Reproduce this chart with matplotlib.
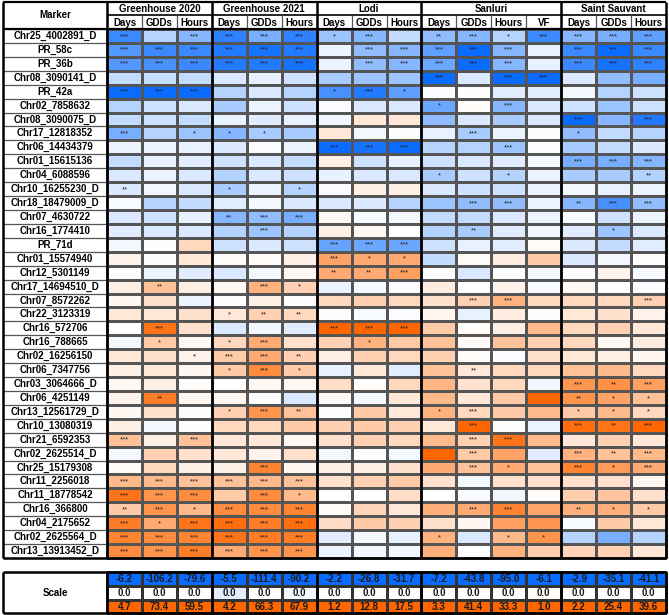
import numpy as np
import matplotlib
matplotlib.use("Agg")
import matplotlib.pyplot as plt
from matplotlib.colors import LinearSegmentedColormap

plt.rcParams['font.family'] = ['Liberation Sans', 'DejaVu Sans']

markers = ["Chr25_4002891_D", "PR_58c", "PR_36b", "Chr08_3090141_D", "PR_42a",
           "Chr02_7858632", "Chr08_3090075_D", "Chr17_12818352", "Chr06_14434379",
           "Chr01_15615136", "Chr04_6088596", "Chr10_16255230_D", "Chr18_18479009_D",
           "Chr07_4630722", "Chr16_1774410", "PR_71d", "Chr01_15574940", "Chr12_5301149",
           "Chr17_14694510_D", "Chr07_8572262", "Chr22_3123319", "Chr16_572706",
           "Chr16_788665", "Chr02_16256150", "Chr06_7347756", "Chr03_3064666_D",
           "Chr06_4251149", "Chr13_12561729_D", "Chr10_13080319", "Chr21_6592353",
           "Chr02_2625514_D", "Chr25_15179308", "Chr11_2256018", "Chr11_18778542",
           "Chr16_366800", "Chr04_2175652", "Chr02_2625564_D", "Chr13_13913452_D"]

groups = ["Greenhouse 2020", "Greenhouse 2021", "Lodi", "Sanluri", "Saint Sauvant"]
group_traits = [["Days", "GDDs", "Hours"], ["Days", "GDDs", "Hours"],
                ["Days", "GDDs", "Hours"], ["Days", "GDDs", "Hours", "VF"],
                ["Days", "GDDs", "Hours"]]

scale_min = [-6.2, -106.2, -79.6, -5.5, -111.4, -90.2, -2.2, -26.8, -31.7,
             -7.2, -43.8, -95.0, -6.1, -2.9, -35.1, -41.1]
scale_max = [4.7, 73.4, 59.5, 4.2, 66.3, 67.9, 1.2, 12.8, 17.5,
             3.3, 41.4, 33.3, 1.0, 2.2, 25.4, 39.6]
scale_zero_shade = [0, 0, 0, -0.12, 0, -0.05, 0, 0, 0, 0, 0, 0, 0.03, 0, 0, 0]

# relative effect (negative -> blue, positive -> orange)
shade = [
    [-0.8, -0.3, -0.5, -0.85, -0.55, -0.85, -0.4, -0.5, -0.25, -0.45, -0.5, -0.3, -0.8, -0.5, -0.55, -0.65],
    [-0.7, -0.8, -0.8, -0.9, -0.95, -0.9, -0.08, -0.45, -0.5, -0.65, -1.0, -0.5, -0.1, -0.8, -1.0, -0.8],
    [-0.7, -0.75, -0.8, -0.9, -0.9, -0.95, -0.08, -0.45, -0.5, -0.6, -1.0, -0.5, -0.1, -0.8, -0.95, -0.85],
    [-0.25, -0.22, -0.25, -0.15, -0.1, -0.2, -0.35, -0.4, -0.4, -1.0, -0.15, -1.0, -1.0, -0.15, -0.45, -0.55],
    [-1.0, -1.0, -1.0, -0.3, -0.15, -0.3, -0.75, -0.9, -0.65, -0.02, 0.0, -0.12, -0.12, -0.05, -0.3, -0.2],
    [-0.3, -0.2, -0.15, -0.35, -0.08, -0.2, -0.02, -0.15, -0.15, -0.6, 0.02, -0.5, -0.15, -0.2, -0.4, -0.2],
    [-0.25, -0.2, -0.25, -0.1, -0.12, -0.1, -0.05, 0.15, 0.15, -0.45, -0.15, -0.35, -0.15, -1.0, -0.5, -0.9],
    [-0.55, -0.3, -0.4, -0.5, -0.35, -0.35, 0.15, -0.05, 0.0, -0.1, -0.35, -0.08, 0.0, -0.45, -0.25, -0.3],
    [-0.08, -0.08, -0.1, -0.15, -0.02, -0.08, -1.0, -0.95, -1.0, -0.3, -0.3, -0.4, -0.02, -0.35, -0.25, -0.15],
    [-0.25, -0.1, -0.12, -0.2, -0.15, -0.25, 0.1, -0.2, -0.1, -0.2, -0.15, -0.12, -0.05, -0.55, -0.55, -0.5],
    [-0.15, -0.08, -0.15, -0.3, -0.15, -0.2, -0.1, -0.15, -0.15, -0.35, -0.2, -0.3, -0.08, -0.35, -0.35, -0.3],
    [-0.15, -0.05, -0.15, -0.35, -0.08, -0.3, -0.02, 0.1, 0.1, -0.15, -0.2, -0.2, -0.08, -0.05, -0.1, -0.08],
    [-0.03, -0.3, -0.25, -0.12, -0.05, -0.15, -0.15, -0.15, -0.3, -0.4, -0.45, -0.45, -0.08, -0.5, -0.75, -0.45],
    [-0.15, -0.2, -0.1, -0.5, -0.45, -0.55, 0.05, -0.03, -0.05, -0.25, -0.25, -0.15, -0.08, -0.03, -0.2, -0.08],
    [-0.12, -0.15, -0.15, -0.3, -0.4, -0.3, 0.1, 0.05, 0.0, -0.3, -0.35, -0.12, -0.05, -0.12, -0.4, -0.15],
    [-0.05, 0.0, 0.25, -0.2, -0.15, -0.2, -0.62, -0.6, -0.6, -0.2, -0.1, -0.12, 0.03, -0.15, -0.25, -0.12],
    [0.08, 0.0, 0.15, 0.03, 0.02, 0.1, 0.6, 0.55, 0.55, -0.25, 0.03, 0.12, 0.35, -0.15, -0.05, 0.0],
    [0.0, -0.08, -0.12, -0.15, -0.05, 0.05, 0.55, 0.55, 0.62, 0.0, -0.15, 0.0, -0.05, 0.0, 0.08, -0.03],
    [0.1, 0.4, 0.1, 0.05, 0.5, 0.3, -0.08, -0.04, -0.02, 0.12, 0.0, 0.08, -0.03, 0.05, 0.0, -0.02],
    [0.05, 0.2, -0.08, 0.0, 0.1, 0.0, 0.25, 0.3, 0.25, 0.2, 0.3, 0.5, 0.25, 0.25, 0.25, 0.3],
    [0.15, 0.15, 0.2, 0.15, 0.3, 0.25, 0.0, -0.03, -0.02, 0.06, -0.1, 0.12, 0.0, 0.15, 0.2, 0.08],
    [0.0, 0.9, 0.2, -0.15, -0.05, -0.12, 1.0, 1.0, 1.0, 0.35, 0.02, 0.1, 0.45, 0.25, 0.3, 0.15],
    [-0.05, 0.35, 0.05, 0.25, 0.55, 0.2, 0.3, 0.5, 0.35, 0.4, 0.03, 0.4, 0.3, 0.25, 0.05, 0.12],
    [0.15, 0.2, 0.08, 0.35, 0.55, 0.3, 0.1, 0.3, 0.25, 0.3, 0.03, -0.02, 0.2, 0.15, 0.1, 0.05],
    [0.1, 0.15, 0.05, 0.35, 0.75, 0.35, -0.1, 0.15, -0.12, 0.4, 0.15, 0.25, 0.25, 0.4, 0.45, 0.25],
    [0.05, 0.1, 0.03, 0.0, 0.05, 0.05, 0.22, 0.02, 0.25, 0.48, 0.18, 0.25, -0.06, 0.68, 0.72, 0.62],
    [0.08, 0.85, 0.05, 0.05, 0.0, -0.15, 0.03, -0.05, 0.15, 0.45, 0.15, 0.35, 1.0, 0.7, 0.6, 0.4],
    [0.05, 0.2, 0.0, 0.3, 0.7, 0.4, 0.0, 0.35, 0.15, 0.5, 0.25, 0.35, 0.45, 0.35, 0.45, 0.25],
    [0.1, -0.05, 0.0, 0.25, 0.25, 0.35, 0.3, 0.35, 0.3, 0.15, 1.0, 0.0, -0.08, 0.95, 0.9, 1.0],
    [0.4, 0.1, 0.4, 0.15, 0.15, 0.05, 0.2, 0.3, 0.25, 0.45, 0.3, 0.9, 0.45, 0.15, 0.3, 0.15],
    [-0.05, 0.3, 0.2, 0.15, 0.08, 0.2, -0.05, 0.0, -0.05, 1.0, 0.35, 0.6, -0.12, 0.5, 0.4, 0.45],
    [0.03, 0.25, 0.1, 0.1, 0.8, 0.05, 0.1, 0.1, 0.2, 0.55, 0.4, 0.55, 0.4, 0.8, 0.65, 0.55],
    [0.45, 0.45, 0.4, 0.4, 0.45, 0.4, 0.2, 0.3, 0.35, 0.2, -0.05, 0.2, 0.2, 0.2, 0.2, 0.05],
    [0.9, 0.7, 0.75, 0.35, 0.75, 0.45, 0.0, 0.0, 0.22, 0.0, -0.03, -0.05, 0.03, 0.32, 0.38, 0.2],
    [0.35, 0.7, 0.45, 0.75, 0.75, 0.8, 0.03, 0.28, 0.15, 0.52, 0.55, 0.8, 0.58, 0.52, 0.52, 0.35],
    [0.85, 0.55, 0.9, 0.95, 0.85, 0.95, 0.22, 0.35, 0.3, 0.2, 0.05, 0.62, 0.68, -0.03, 0.35, 0.15],
    [0.8, 0.75, 0.8, 0.9, 0.85, 0.85, -0.12, -0.05, -0.1, 0.5, -0.15, 0.45, 0.7, -0.3, -0.55, -0.3],
    [0.75, 0.7, 0.85, 0.55, 0.7, 0.7, -0.08, -0.05, -0.05, 0.52, 0.0, 0.5, 0.32, 0.28, 0.3, 0.15],
]

stars = [
    "*** - *** *** *** *** * *** - ** *** * *** *** *** ***",
    "*** *** *** *** *** *** - *** *** *** *** *** - *** *** ***",
    "*** *** *** *** *** *** - *** *** *** *** *** - *** *** ***",
    "- - - - - - - - - *** - *** *** - - -",
    "*** *** *** - - - * *** * - - - - - - -",
    "- - - - - - - - - * - *** - - - -",
    "- - - - - - - - - - - - - *** - ***",
    "*** - * * * - - - - - *** - - * - -",
    "- - - - - - *** *** *** - - *** - - - -",
    "- - - - - - - - - - - - - *** *** ***",
    "- - - - - - - - - * - * - - - **",
    "** - - * - * - - - - - - - - - -",
    "- - - - - - - - - - *** *** - ** *** ***",
    "- - - ** *** *** - - - - - - - - - -",
    "- - - - *** - - - - - ** - - - * -",
    "- - - - - - *** *** *** - - - - - - -",
    "- - - - - - *** * * - - - - - - -",
    "- - - - - - ** ** *** - - - - - - -",
    "- ** - - *** * - - - - - - - - - -",
    "- - - - - - - - - - *** *** - - - ***",
    "- - - * ** ** - - - - - - - - - -",
    "- *** - - - - *** *** *** - - - - - - -",
    "- * - * *** - - * - - - - - - - -",
    "- - * *** *** ** - - - - - - - - - -",
    "- - - * *** * - - - - ** - - - - -",
    "- - - - - - - - - - - - - *** ** ***",
    "- ** - - - - - - - - - - - ** * *",
    "- - - * *** ** - - - * *** - - * * *",
    "- - - - - - - - - - *** - - *** ** ***",
    "*** - *** - - - - - - - *** *** - - - -",
    "- - - - - - - - - - *** - - *** ** ***",
    "- - - - *** - - - - - *** * - *** * ***",
    "*** *** *** *** *** *** - - - - - - - - - -",
    "*** *** *** - *** * - - - - - - - - - -",
    "** *** * *** *** *** - - - - *** *** - ** * *",
    "*** * *** *** *** *** - - - - - - - - - -",
    "*** *** *** *** *** *** - - - * - * * - - -",
    "*** *** *** *** *** *** - - - - - - - - - -",
]

cmap = LinearSegmentedColormap.from_list("bwo", ["#0A6CFF", "#FFFFFF", "#FF6600"])

fig = plt.figure(figsize=(6.69, 6.15), dpi=100)
ax = fig.add_axes([0, 0, 1, 1])
ax.set_xlim(0, 669)
ax.set_ylim(615, 0)
ax.axis("off")

ncol = len(scale_min)
x_left, x_mark, x_right = 3, 107, 666
xe = np.linspace(x_mark, x_right, ncol + 1)
y_top, y_sub, y_head = 2, 15, 29
ye = np.linspace(y_head, 558, len(markers) + 1)

grid = "#555555"
z = np.array(shade)
ax.pcolormesh(xe, ye, z, cmap=cmap, vmin=-1, vmax=1,
              edgecolors=grid, linewidth=0.9)

bold = dict(fontweight="bold", fontsize=7, ha="center", va="center")
# marker column
for i, m in enumerate(markers):
    yc = (ye[i] + ye[i + 1]) / 2
    ax.text((x_left + x_mark) / 2, yc, m, **bold)
ax.hlines(ye, x_left, x_mark, color=grid, lw=0.9)

# stars
for i, row in enumerate(stars):
    for j, s in enumerate(row.split()):
        if s != "-":
            ax.text((xe[j] + xe[j + 1]) / 2, (ye[i] + ye[i + 1]) / 2 + 0.5, s,
                    fontsize=5.5, ha="center", va="center", color="#222222")

# header
ax.text((x_left + x_mark) / 2, (y_top + y_head) / 2, "Marker", **bold)
bounds = [0]
for tr in group_traits:
    bounds.append(bounds[-1] + len(tr))
col = 0
for g, tr in zip(groups, group_traits):
    gx0, gx1 = xe[col], xe[col + len(tr)]
    ax.text((gx0 + gx1) / 2, (y_top + y_sub) / 2 + 0.5, g, **bold)
    ax.hlines(y_sub, gx0, gx1, color="black", lw=1.2)
    for t in tr:
        ax.text((xe[col] + xe[col + 1]) / 2, (y_sub + y_head) / 2 + 0.5, t, **bold)
        ax.vlines(xe[col], y_sub, y_head, color=grid, lw=0.9)
        col += 1

ax.hlines([y_top, y_head], x_left, x_right, color="black", lw=1.6)
ax.hlines(ye[-1], x_left, x_right, color="black", lw=1.8)
ax.vlines([x_left, x_mark, x_right], y_top, ye[-1], color="black", lw=1.8)
ax.vlines(xe[bounds[1:-1]], y_top, ye[-1], color="black", lw=1.8)

# scale table
sy = np.array([572, 586, 599.5, 613])
sz = np.array([[-1.0] * ncol, scale_zero_shade, [1.0] * ncol])
ax.pcolormesh(xe, sy, sz, cmap=cmap, vmin=-1, vmax=1,
              edgecolors="#333333", linewidth=0.9)
rows = [scale_min, [0.0] * ncol, scale_max]
for r, vals in enumerate(rows):
    for j, v in enumerate(vals):
        ax.text((xe[j] + xe[j + 1]) / 2, (sy[r] + sy[r + 1]) / 2 + 0.5,
                f"{v:.1f}", fontsize=7, ha="center", va="center",
                fontweight="bold", color="#1a1a1a")
ax.text((x_left + x_mark) / 2, (sy[0] + sy[-1]) / 2, "Scale", **bold)
ax.hlines([sy[0], sy[-1]], x_left, x_right, color="black", lw=1.8)
ax.vlines([x_left, x_mark, x_right], sy[0], sy[-1], color="black", lw=1.8)
ax.vlines(xe[bounds[1:-1]], sy[0], sy[-1], color="black", lw=1.8)

fig.savefig("out.png", dpi=100)
